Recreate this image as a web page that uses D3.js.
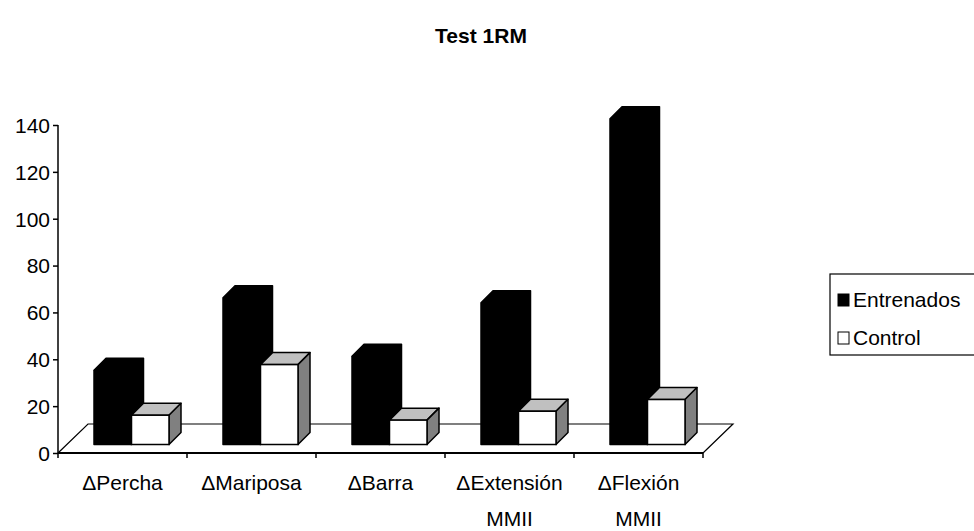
<!DOCTYPE html>
<html>
<head>
<meta charset="utf-8">
<script src="https://cdn.jsdelivr.net/npm/d3@7"></script>
<style>
  body { margin: 0; background: #fff; }
  text { font-family: "Liberation Sans", Arial, sans-serif; fill: #000; }
</style>
</head>
<body>
<svg id="chart"></svg>
<script>
const categories = ['ΔPercha', 'ΔMariposa', 'ΔBarra', 'ΔExtensión MMII', 'ΔFlexión MMII'];
const series = ['Entrenados', 'Control'];
const entrenados = [31.7, 62.6, 37.7, 60.5, 139];
const control = [12.5, 34.1, 10.4, 14.2, 19.2];
const yTicks = [0, 20, 40, 60, 80, 100, 120, 140];

const chartW = 974, chartH = 531;
const plotLeft = 58, plotRight = 703, plotBottom = 453, plotTop = 125;
// 3D offsets
const floorDx = 30, floorDy = -29;
const gapDx = 9, gapDy = -8.5;
const barDx = 12, barDy = -12;

const svg = d3.select('#chart').attr('width', chartW).attr('height', chartH);

const x = d3.scaleBand().domain(categories).range([plotLeft, plotRight]);
const xs = d3.scaleBand().domain(series).range([27, 102]);
const y = d3.scaleLinear().domain([0, 140]).range([plotBottom, plotTop]);

// title
svg.append('text')
    .attr('x', 481).attr('y', 43)
    .attr('text-anchor', 'middle')
    .style('font-size', '21px').style('font-weight', 'bold')
    .text('Test 1RM');

// floor
svg.append('path')
    .attr('d', `M${plotLeft},${plotBottom} L${plotLeft + floorDx},${plotBottom + floorDy} L${plotRight + floorDx},${plotBottom + floorDy} L${plotRight},${plotBottom}`)
    .attr('fill', 'none').attr('stroke', '#000').attr('stroke-width', 1.2);

// bars
const rows = categories.map((c, i) => ({ cat: c, vals: [entrenados[i], control[i]] }));

rows.forEach(r => {
    r.vals.forEach((v, j) => {
        const x0 = x(r.cat) + xs(series[j]) + gapDx;
        const x1 = x0 + xs.bandwidth();
        const yb = y(0) + gapDy;
        const yt = y(v) + gapDy;
        const g = svg.append('g');
        if (j === 0) {
            g.append('path')
                .attr('d', `M${x0},${yb} L${x0},${yt} L${x0 + barDx},${yt + barDy} L${x1 + barDx},${yt + barDy} L${x1 + barDx},${yb + barDy} L${x1},${yb} Z`)
                .attr('fill', '#000').attr('stroke', '#000').attr('stroke-width', 1.5)
                .attr('stroke-linejoin', 'round');
        } else {
            g.append('path')
                .attr('d', `M${x0},${yt} L${x0 + barDx},${yt + barDy} L${x1 + barDx},${yt + barDy} L${x1},${yt} Z`)
                .attr('fill', '#c0c0c0').attr('stroke', '#000').attr('stroke-width', 1.5)
                .attr('stroke-linejoin', 'round');
            g.append('path')
                .attr('d', `M${x1},${yt} L${x1 + barDx},${yt + barDy} L${x1 + barDx},${yb + barDy} L${x1},${yb} Z`)
                .attr('fill', '#808080').attr('stroke', '#000').attr('stroke-width', 1.5)
                .attr('stroke-linejoin', 'round');
            g.append('rect')
                .attr('x', x0).attr('y', yt)
                .attr('width', x1 - x0).attr('height', yb - yt)
                .attr('fill', '#fff').attr('stroke', '#000').attr('stroke-width', 1.5);
        }
    });
});

// y axis
const yAxis = svg.append('g')
    .attr('transform', `translate(${plotLeft},0)`)
    .call(d3.axisLeft(y).tickValues(yTicks).tickSize(5).tickPadding(3));
yAxis.select('.domain').attr('stroke-width', 1.5).attr('d', `M-0,${plotBottom}V${plotTop}`);
yAxis.selectAll('line').attr('stroke-width', 1.5);
yAxis.selectAll('text')
    .style('font-size', '21px').style('font-family', '"Liberation Sans", Arial, sans-serif')
    .attr('dy', '0.35em');

// x axis
svg.append('line')
    .attr('x1', plotLeft).attr('x2', plotRight).attr('y1', plotBottom).attr('y2', plotBottom)
    .attr('stroke', '#000').attr('stroke-width', 2);

const bounds = categories.map(c => x(c)).concat([x(categories[categories.length - 1]) + x.step()]);
svg.selectAll('.xtick')
    .data(bounds)
    .join('line')
    .attr('class', 'xtick')
    .attr('x1', d => d).attr('x2', d => d)
    .attr('y1', plotBottom).attr('y2', plotBottom + 5)
    .attr('stroke', '#000').attr('stroke-width', 1.5);

svg.selectAll('.xlabel')
    .data(categories)
    .join('text')
    .attr('class', 'xlabel')
    .attr('text-anchor', 'middle')
    .style('font-size', '21px')
    .each(function (d) {
        const t = d3.select(this);
        d.split(' ').forEach((w, i) => {
            t.append('tspan')
                .attr('x', x(d) + x.bandwidth() / 2)
                .attr('y', 490 + i * 36)
                .text(w);
        });
    });

// legend
const legend = svg.append('g');
legend.append('rect')
    .attr('x', 830).attr('y', 274).attr('width', 160).attr('height', 81)
    .attr('fill', '#fff').attr('stroke', '#000').attr('stroke-width', 1.2);

const legendFill = d3.scaleOrdinal().domain(series).range(['#000', '#fff']);
series.forEach((s, i) => {
    legend.append('rect')
        .attr('x', 838).attr('y', 294 + i * 38).attr('width', 11).attr('height', 12)
        .attr('fill', legendFill(s)).attr('stroke', '#000').attr('stroke-width', 1);
    legend.append('text')
        .attr('x', 853).attr('y', 307 + i * 38)
        .style('font-size', '21px')
        .text(s);
});
</script>
</body>
</html>
